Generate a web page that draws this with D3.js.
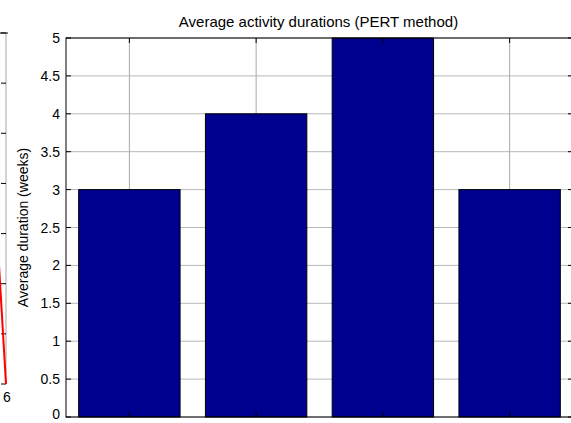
<!DOCTYPE html>
<html>
<head>
<meta charset="utf-8">
<script src="https://cdn.jsdelivr.net/npm/d3@7"></script>
<style>
  body { margin: 0; background: #fff; }
  text { font-family: "Liberation Sans", Arial, sans-serif; }
</style>
</head>
<body>
<div id="chart"></div>
<script>
// activity durations (PERT)
const activities = [1, 2, 3, 4];
const durations = [3, 4, 5, 3];
const yTicks = [0, 0.5, 1, 1.5, 2, 2.5, 3, 3.5, 4, 4.5, 5];
const chartTitle = "Average activity durations (PERT method)";
const yLabel = "Average duration (weeks)";

// neighbour subplot, only its right edge is visible
const leftX = [5, 6];
const leftY = [4.4, 0];
const leftYTicks = [0, 1, 2, 3, 4, 5, 6, 7];
const leftXTickLabels = ["6"];

const W = 571, H = 423;
const FS = 14;
const svg = d3.select("#chart").append("svg")
    .attr("width", W)
    .attr("height", H);

// main axes
const x = d3.scaleLinear().domain([0.5, 4.5]).range([66, 573]);
const y = d3.scaleLinear().domain([0, 5]).range([417, 38]);
const barW = x(1.4) - x(0.6);

// grid lines
svg.selectAll(".hgrid")
    .data(yTicks)
    .join("line")
    .attr("x1", x(0.5)).attr("x2", x(4.5))
    .attr("y1", d => y(d)).attr("y2", d => y(d))
    .attr("stroke", "#b8b8b8")
    .attr("stroke-width", 1);

svg.selectAll(".vgrid")
    .data(activities)
    .join("line")
    .attr("x1", d => x(d)).attr("x2", d => x(d))
    .attr("y1", y(0)).attr("y2", y(5))
    .attr("stroke", "#a8a8a8")
    .attr("stroke-width", 1);

// bars
svg.selectAll(".bar")
    .data(activities)
    .join("rect")
    .attr("x", d => x(d) - barW / 2)
    .attr("y", (d, i) => y(durations[i]))
    .attr("width", barW)
    .attr("height", (d, i) => y(0) - y(durations[i]))
    .attr("fill", "#00008f")
    .attr("stroke", "#000")
    .attr("stroke-width", 1);

// tick marks (inward)
svg.selectAll(".ytickL")
    .data(yTicks)
    .join("line")
    .attr("x1", x(0.5)).attr("x2", x(0.5) + 5)
    .attr("y1", d => y(d)).attr("y2", d => y(d))
    .attr("stroke", "#000");
svg.selectAll(".ytickR")
    .data(yTicks)
    .join("line")
    .attr("x1", x(4.5)).attr("x2", x(4.5) - 5)
    .attr("y1", d => y(d)).attr("y2", d => y(d))
    .attr("stroke", "#000");
svg.selectAll(".xtickT")
    .data(activities)
    .join("line")
    .attr("x1", d => x(d)).attr("x2", d => x(d))
    .attr("y1", y(5)).attr("y2", y(5) + 5)
    .attr("stroke", "#000");
svg.selectAll(".xtickB")
    .data(activities)
    .join("line")
    .attr("x1", d => x(d)).attr("x2", d => x(d))
    .attr("y1", y(0)).attr("y2", y(0) - 5)
    .attr("stroke", "#000");

// axes box
svg.append("rect")
    .attr("x", x(0.5)).attr("y", y(5))
    .attr("width", x(4.5) - x(0.5))
    .attr("height", y(0) - y(5))
    .attr("fill", "none")
    .attr("stroke", "#000")
    .attr("stroke-width", 1);

// y tick labels; the 0 is lifted a little so it stays inside the page
svg.selectAll(".ylab")
    .data(yTicks)
    .join("text")
    .attr("x", x(0.5) - 6)
    .attr("y", d => Math.min(y(d) + 5, H - 4))
    .attr("text-anchor", "end")
    .attr("font-size", FS)
    .attr("fill", "#000")
    .text(d => d);

// title
svg.append("text")
    .attr("x", (x(0.5) + W) / 2)
    .attr("y", 27)
    .attr("text-anchor", "middle")
    .attr("font-size", 15)
    .text(chartTitle);

// y axis label
svg.append("text")
    .attr("transform", `translate(28,${(y(0) + y(5)) / 2}) rotate(-90)`)
    .attr("text-anchor", "middle")
    .attr("font-size", FS)
    .text(yLabel);

// left subplot remains
const lx = d3.scaleLinear().domain([1, 6]).range([-59, 6]);
const ly = d3.scaleLinear().domain([0, 7]).range([384, 33]);

svg.append("line")
    .attr("x1", lx(6)).attr("x2", lx(6))
    .attr("y1", ly(0)).attr("y2", ly(7))
    .attr("stroke", "#a8a8a8");
svg.selectAll(".ltick")
    .data(leftYTicks)
    .join("line")
    .attr("x1", lx(6) - 5).attr("x2", lx(6))
    .attr("y1", d => ly(d)).attr("y2", d => ly(d))
    .attr("stroke", "#000");
svg.append("line")
    .attr("x1", 0).attr("x2", lx(6) + 2)
    .attr("y1", ly(7)).attr("y2", ly(7))
    .attr("stroke", "#000");

svg.append("path")
    .datum(leftX.map((d, i) => [d, leftY[i]]))
    .attr("d", d3.line().x(d => lx(d[0])).y(d => ly(d[1])))
    .attr("fill", "none")
    .attr("stroke", "#ff0000")
    .attr("stroke-width", 2);

svg.selectAll(".lxlab")
    .data(leftXTickLabels)
    .join("text")
    .attr("x", lx(6) + 1)
    .attr("y", 402)
    .attr("text-anchor", "middle")
    .attr("font-size", FS)
    .text(d => d);
</script>
</body>
</html>
